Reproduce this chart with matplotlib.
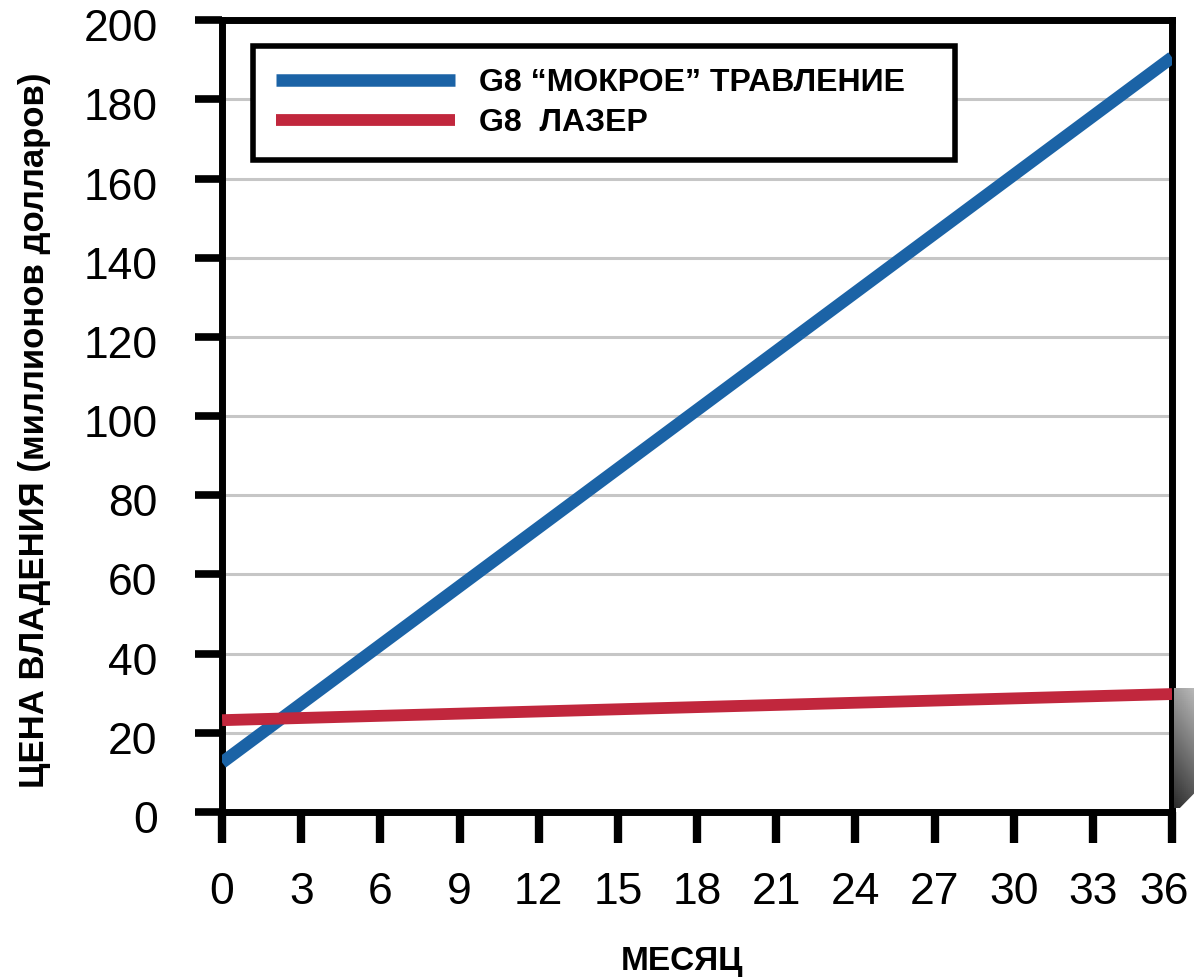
import numpy as np
import matplotlib.pyplot as plt
import matplotlib.transforms as mtransforms
from matplotlib.patches import Polygon

months = [0, 36]
wet_etch = [12.5, 190.6]
laser = [23.2, 29.8]
x_ticks = list(range(0, 37, 3))
y_ticks = list(range(0, 201, 20))

plt.rcParams["font.family"] = ["Liberation Sans", "DejaVu Sans"]

fig = plt.figure(figsize=(11.94, 9.8), dpi=100)
ax = fig.add_axes([0.186, 0.1714, 0.7956, 0.808])

ax.plot(months, wet_etch, color="#1b63a6", linewidth=9,
        solid_capstyle="butt", label="G8 “МОКРОЕ” ТРАВЛЕНИЕ", zorder=3)
ax.plot(months, laser, color="#c1273d", linewidth=8.5,
        solid_capstyle="butt", label="G8  ЛАЗЕР", zorder=3)

ax.set_xlim(0, 36)
ax.set_ylim(0, 200)
ax.set_xticks(x_ticks)
ax.set_yticks(y_ticks)
ax.grid(True, axis="y", color="#c6c6c6", linewidth=2.2)
ax.set_axisbelow(True)

for s in ax.spines.values():
    s.set_linewidth(5)
ax.tick_params(axis="y", direction="out", length=19.5, width=5.5,
               labelsize=32, pad=27)
ax.tick_params(axis="x", direction="out", length=22, width=6,
               labelsize=32, pad=21)

# y tick labels sit a bit below their ticks in the original
shift = mtransforms.ScaledTranslation(0, -0.05, fig.dpi_scale_trans)
for lab in ax.get_yticklabels():
    lab.set_transform(lab.get_transform() + shift)
# last x label is pulled in so it stays inside the picture
xlabs = ax.get_xticklabels()
xlabs[-1].set_transform(xlabs[-1].get_transform() +
                        mtransforms.ScaledTranslation(-0.08, 0, fig.dpi_scale_trans))

fig.text(682 / 1194, 1 - 961 / 980, "МЕСЯЦ", fontsize=24,
         fontweight="bold", ha="center", va="center")
fig.text(35 / 1194, 1 - 430 / 980, "ЦЕНА ВЛАДЕНИЯ (миллионов долларов)",
         fontsize=25, fontweight="bold", rotation=90,
         ha="center", va="center")

leg = ax.legend(loc="upper left", bbox_to_anchor=(0.033, 0.0, 0.739, 0.968),
                mode="expand", prop={"weight": "bold", "size": 23},
                handlelength=5.6, handletextpad=0.75, borderpad=0.7,
                labelspacing=0.32, fancybox=False, framealpha=1,
                edgecolor="black", borderaxespad=0)
leg.get_frame().set_linewidth(4)

# grey shadow right of the frame, near the bottom
sh_ax = fig.add_axes([1174 / 1194, 1 - 808 / 980, 20 / 1194, 120 / 980])
sh_ax.set_axis_off()
grad = np.linspace(0.62, 0.18, 60)[:, None] * np.ones((1, 10))
grad = grad + np.linspace(0, 0.1, 10)[None, :]
img = sh_ax.imshow(grad, cmap="gray", vmin=0, vmax=1, aspect="auto",
                   extent=[0, 1, 0, 1], origin="upper")
clip = Polygon([(0, 1), (1, 1), (1, 0.12), (0, -0.05)], closed=True,
               transform=sh_ax.transAxes, facecolor="none", edgecolor="none")
sh_ax.add_patch(clip)
img.set_clip_path(clip)

plt.savefig("out.png", dpi=100)
